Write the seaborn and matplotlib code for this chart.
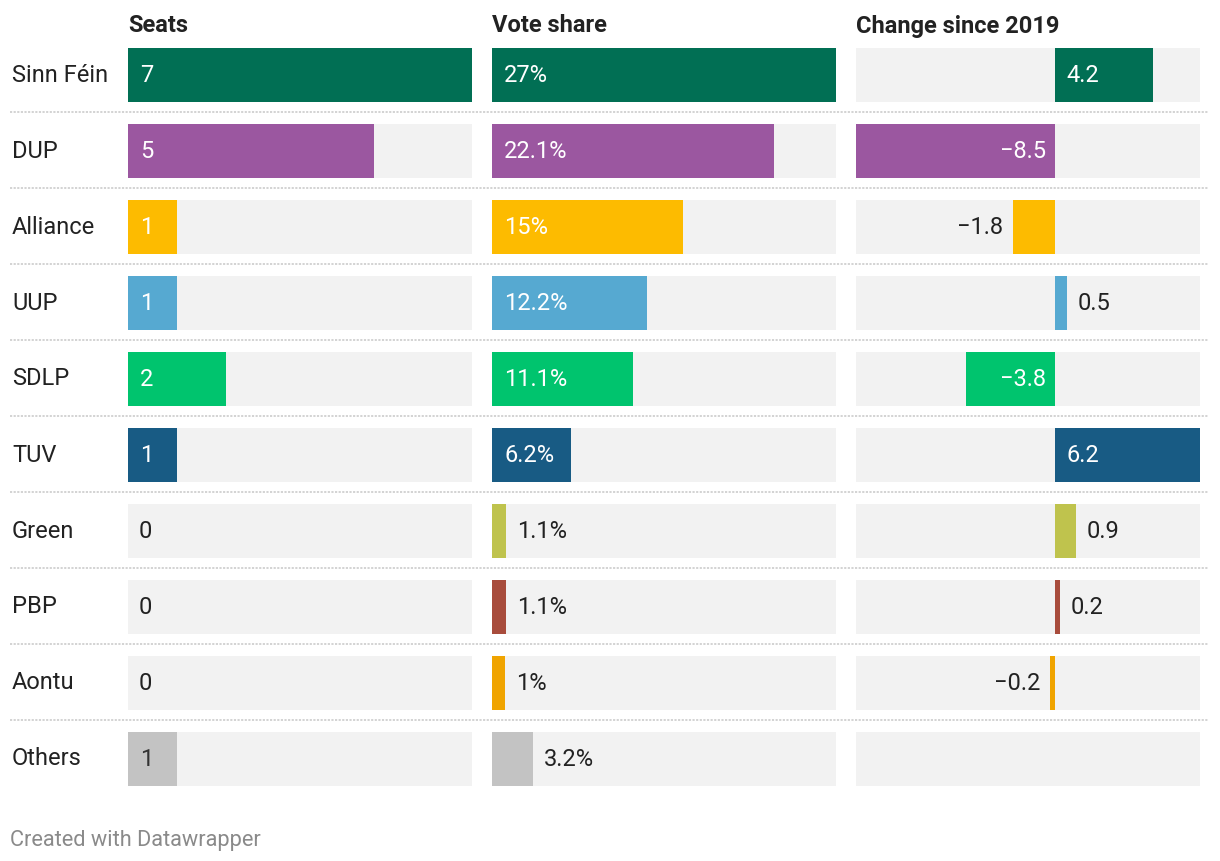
import numpy as np
import pandas as pd
import seaborn as sns
import matplotlib.pyplot as plt
from matplotlib.lines import Line2D

# données
parties = ['Sinn Féin', 'DUP', 'Alliance', 'UUP', 'SDLP', 'TUV', 'Green', 'PBP', 'Aontu', 'Others']
seats = [7, 5, 1, 1, 2, 1, 0, 0, 0, 1]
vote_share = [27, 22.1, 15, 12.2, 11.1, 6.2, 1.1, 1.1, 1.0, 3.2]
change = [4.2, -8.5, -1.8, 0.5, -3.8, 6.2, 0.9, 0.2, -0.2, np.nan]
colours = ['#016f54', '#9b57a0', '#fdbb00', '#56a9d1', '#00c46e',
           '#185b84', '#bfc34d', '#a84c3c', '#f0a400', '#c3c3c3']
headers = ['Seats', 'Vote share', 'Change since 2019']

df = pd.DataFrame({'party': parties, 'seats': seats,
                   'vote': vote_share, 'change': change})
pal = dict(zip(parties, colours))

sns.set_theme(style='white')
plt.rcParams['font.family'] = ['Roboto', 'DejaVu Sans']

W, H = 1220, 862
FS = 17
TXT = '#222222'
fig = plt.figure(figsize=(W / 100, H / 100), dpi=100)


def fmt(col, v):
    if col == 'seats':
        return f'{int(v)}'
    if col == 'vote':
        return f'{v:g}%'
    return f'{v:g}'.replace('-', '\u2212')


def panel(x0, col, xmin, xmax, title):
    ax = fig.add_axes([x0 / W, 1 - 798 / H, 344 / W, 760 / H])
    # fond gris
    ax.barh(range(len(parties)), xmax - xmin, left=xmin, height=0.71,
            color='#f2f2f2', zorder=0, linewidth=0)
    sub = df[df[col].notna() & (df[col] != 0)]
    sns.barplot(data=sub, x=col, y='party', hue='party', palette=pal,
                order=parties, hue_order=parties, width=0.71, saturation=1,
                errorbar=None, legend=False, linewidth=0, ax=ax, orient='h')
    ax.set_xlim(xmin, xmax)
    ax.set_ylim(len(parties) - 0.5, -0.5)
    ax.axis('off')
    # étiquettes
    scale = 344 / (xmax - xmin)
    for i, v in enumerate(df[col]):
        if pd.isna(v):
            continue
        lab = fmt(col, v)
        bar_px = abs(v) * scale
        inside = bar_px >= len(lab) * 11.5 + 24
        if inside:
            colr = '#333333' if parties[i] == 'Others' else 'white'
            if v >= 0:
                ax.annotate(lab, (0, i), xytext=(12, 0), textcoords='offset pixels',
                            ha='left', va='center', color=colr, fontsize=FS)
            else:
                ax.annotate(lab, (0, i), xytext=(-9, 0), textcoords='offset pixels',
                            ha='right', va='center', color=colr, fontsize=FS)
        else:
            if v >= 0:
                ax.annotate(lab, (v, i), xytext=(11, 0), textcoords='offset pixels',
                            ha='left', va='center', color=TXT, fontsize=FS)
            else:
                ax.annotate(lab, (v, i), xytext=(-10, 0), textcoords='offset pixels',
                            ha='right', va='center', color=TXT, fontsize=FS)
    fig.text(x0 / W, 1 - 26 / H, title, fontsize=FS, fontweight='bold',
             color=TXT, va='center', ha='left')
    return ax


panel(128, 'seats', 0, max(seats), headers[0])
panel(492, 'vote', 0, max(vote_share), headers[1])
panel(856, 'change', np.nanmin(change), np.nanmax(change), headers[2])

# noms des partis et séparateurs pointillés
for i, p in enumerate(parties):
    yc = 1 - (75 + 76 * i) / H
    fig.text(12 / W, yc, p, fontsize=FS, color=TXT, va='center', ha='left')
    if i < len(parties) - 1:
        ys = 1 - (113 + 76 * i) / H
        fig.add_artist(Line2D([10 / W, 1208 / W], [ys, ys], transform=fig.transFigure,
                              color='#d0d0d0', lw=1.3, linestyle=(0, (1.2, 0.8))))

fig.text(10 / W, 1 - 841 / H, 'Created with Datawrapper', fontsize=15.7,
         color='#8a8a8a', va='center', ha='left')

fig.savefig('out.png', dpi=100, facecolor='white')
